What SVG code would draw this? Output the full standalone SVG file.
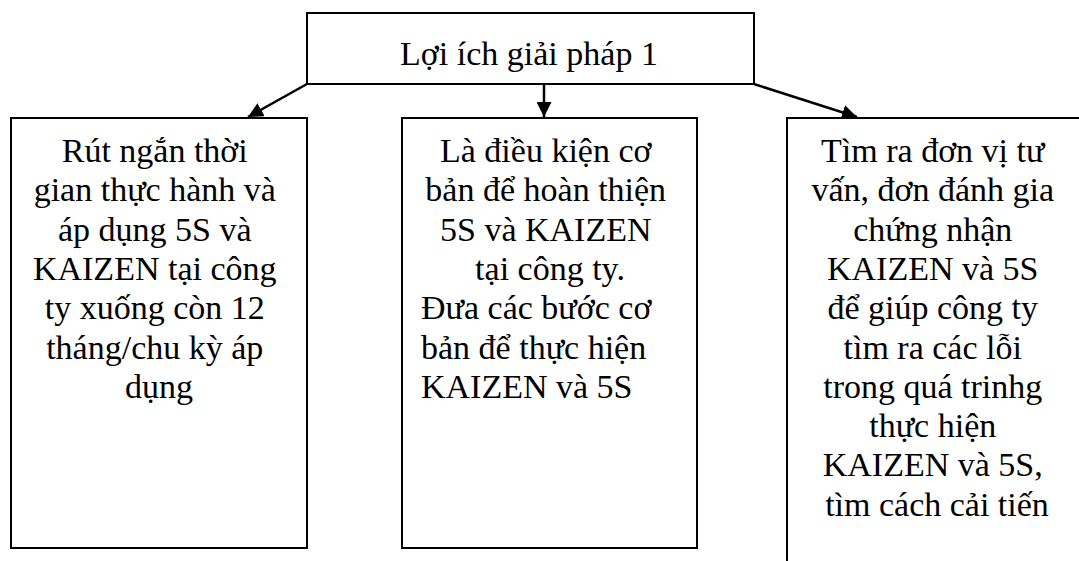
<svg xmlns="http://www.w3.org/2000/svg" width="1079" height="561" viewBox="0 0 1079 561">
<defs>
<style>
.box{fill:#fff;stroke:#000;stroke-width:2}
.t{font-family:"Liberation Serif","Times New Roman",serif;font-size:34px;fill:#000}
.c{text-anchor:middle}
.edge{stroke:#000;stroke-width:2.5;fill:none}
</style>
<marker id="ah" viewBox="0 0 10 10" refX="10" refY="5" markerWidth="6" markerHeight="6" markerUnits="strokeWidth" orient="auto">
<path d="M0,0 L10,5 L0,10 z" fill="#000"/>
</marker>
</defs>
<rect width="1079" height="561" fill="#fff"/>
<g id="connectors">
<line class="edge" x1="307" y1="84" x2="248" y2="117" marker-end="url(#ah)"/>
<line class="edge" x1="544" y1="84" x2="544" y2="117" marker-end="url(#ah)"/>
<line class="edge" x1="754" y1="84" x2="857" y2="117" marker-end="url(#ah)"/>
</g>
<g id="top">
<rect class="box" x="307" y="13" width="447" height="71"/>
<text class="t c" x="529" y="65">Lợi ích giải pháp 1</text>
</g>
<g id="left">
<rect class="box" x="11" y="118" width="296" height="430"/>
<text class="t c" x="159" y="162">
<tspan x="159" y="162">Rút ngắn thời</tspan>
<tspan x="159" dy="39.3">gian thực hành và</tspan>
<tspan x="159" dy="39.3">áp dụng 5S và</tspan>
<tspan x="159" dy="39.3">KAIZEN tại công</tspan>
<tspan x="159" dy="39.3">ty xuống còn 12</tspan>
<tspan x="159" dy="39.3">tháng/chu kỳ áp</tspan>
<tspan x="159" dy="39.3">dụng</tspan>
</text>
</g>
<g id="middle">
<rect class="box" x="402" y="118" width="295" height="430"/>
<text class="t c" x="550" y="162">
<tspan x="550" y="162">Là điều kiện cơ</tspan>
<tspan x="550" dy="39.3">bản để hoàn thiện</tspan>
<tspan x="550" dy="39.3">5S và KAIZEN</tspan>
<tspan x="550" dy="39.3">tại công ty.</tspan>
</text>
<text class="t" x="421" y="319.2">
<tspan x="421" y="319.2">Đưa các bước cơ</tspan>
<tspan x="421" dy="39.3">bản để thực hiện</tspan>
<tspan x="421" dy="39.3">KAIZEN và 5S</tspan>
</text>
</g>
<g id="right">
<rect class="box" x="787" y="118" width="310" height="460"/>
<text class="t c" x="937" y="162">
<tspan x="937" y="162">Tìm ra đơn vị tư</tspan>
<tspan x="937" dy="39.3">vấn, đơn đánh gia</tspan>
<tspan x="937" dy="39.3">chứng nhận</tspan>
<tspan x="937" dy="39.3">KAIZEN và 5S</tspan>
<tspan x="937" dy="39.3">để giúp công ty</tspan>
<tspan x="937" dy="39.3">tìm ra các lỗi</tspan>
<tspan x="937" dy="39.3">trong quá trinhg</tspan>
<tspan x="937" dy="39.3">thực hiện</tspan>
<tspan x="937" dy="39.3">KAIZEN và 5S,</tspan>
<tspan x="937" dy="39.3">tìm cách cải tiến</tspan>
</text>
</g>
</svg>
